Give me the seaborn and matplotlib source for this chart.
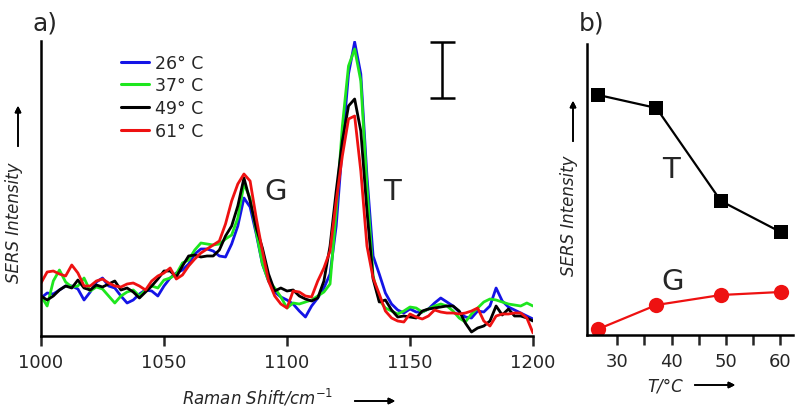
import matplotlib
matplotlib.use("Agg")
import matplotlib.pyplot as plt
import seaborn as sns
import pandas as pd
import numpy as np

# Spectra data (Raman shift grid, intensities in arbitrary units)
shift = np.arange(1000, 1200.1, 2.5)

blue_26 = [38, 43, 42, 46, 50, 50, 47, 36, 44, 54, 58, 50, 48, 40, 33, 36, 42, 46, 45, 40,
           50, 58, 63, 66, 72, 82, 87, 87, 85, 80, 79, 92, 110, 138, 129, 102, 72, 55, 44, 39,
           36, 32, 25, 19, 30, 38, 48, 62, 110, 190, 262, 294, 262, 160, 80, 62, 43, 32, 26, 23,
           27, 24, 24, 27, 33, 38, 34, 30, 24, 19, 18, 25, 24, 30, 48, 35, 29, 26, 23, 20, 17]
green_37 = [40, 30, 55, 66, 54, 49, 50, 58, 45, 49, 47, 40, 33, 40, 44, 46, 40, 46, 50, 48,
            56, 58, 62, 73, 76, 86, 93, 92, 91, 92, 97, 101, 118, 152, 138, 104, 72, 55, 48, 39,
            28, 33, 32, 34, 36, 40, 44, 52, 125, 210, 270, 287, 255, 150, 60, 36, 28, 25, 22, 25,
            29, 28, 24, 27, 30, 32, 30, 25, 18, 14, 22, 28, 34, 37, 36, 34, 32, 31, 30, 33, 30]
black_49 = [40, 36, 40, 46, 50, 48, 56, 48, 46, 51, 49, 52, 55, 46, 48, 44, 38, 44, 50, 57,
            65, 65, 59, 70, 80, 81, 79, 80, 80, 86, 100, 110, 130, 158, 135, 108, 88, 62, 45, 48,
            45, 46, 40, 37, 35, 38, 55, 90, 145, 195, 230, 237, 205, 125, 57, 34, 36, 26, 19, 20,
            19, 18, 25, 27, 28, 29, 30, 30, 25, 13, 4, 8, 10, 15, 30, 21, 27, 20, 20, 18, 15]
red_61 = [53, 64, 65, 62, 60, 71, 63, 50, 50, 55, 57, 53, 50, 49, 52, 53, 50, 46, 55, 60,
          63, 68, 57, 61, 70, 77, 83, 87, 91, 95, 112, 135, 152, 162, 155, 118, 85, 55, 40, 32,
          28, 45, 44, 40, 39, 55, 68, 85, 135, 180, 217, 220, 165, 90, 58, 42, 25, 18, 15, 14,
          22, 19, 17, 20, 26, 24, 23, 23, 22, 23, 25, 28, 15, 10, 20, 22, 22, 23, 23, 18, 3]

labels = ["26° C", "37° C", "49° C", "61° C"]
colors = ["#1414e6", "#1ee61e", "#000000", "#ee1111"]

# Peak intensities vs temperature
temps = [26.5, 37.2, 49.1, 60.1]
peak_T = [240, 227, 134, 103]
peak_G = [6, 30, 40, 43]

rows = []
for lab, vals in zip(labels, [blue_26, green_37, black_49, red_61]):
    for x, v in zip(shift, vals):
        rows.append({"shift": x, "intensity": v, "temp": lab})
df = pd.DataFrame(rows)

sns.set_style("ticks")
plt.rcParams["font.family"] = ["DejaVu Sans"]

W, H = 800, 414
fig = plt.figure(figsize=(W / 100, H / 100), dpi=100)

def box(l, r, t, b):
    return [l / W, 1 - b / H, (r - l) / W, (b - t) / H]

# ---- panel a
ax = fig.add_axes(box(41, 533, 42, 337))
sns.lineplot(data=df, x="shift", y="intensity", hue="temp", hue_order=labels,
             palette=colors, linewidth=2.0, ax=ax, estimator=None, sort=False)
ax.set_xlim(1000, 1200)
ax.set_ylim(0, 295)
ax.set_xticks([1000, 1050, 1100, 1150, 1200])
ax.set_yticks([])
ax.set_xlabel("")
ax.set_ylabel("")
ax.tick_params(axis="x", labelsize=13, length=7, width=1.8, direction="out", pad=5)
for s in ["top", "right"]:
    ax.spines[s].set_visible(False)
for s in ["left", "bottom"]:
    ax.spines[s].set_linewidth(1.8)
    ax.spines[s].set_color("black")

leg = ax.legend(loc="upper left", bbox_to_anchor=(0.163, 0.957), frameon=False,
                fontsize=12.5, handlelength=1.6, handletextpad=0.35,
                labelspacing=0.27, borderpad=0, borderaxespad=0)
for line in leg.get_lines():
    line.set_linewidth(2.2)

ax.text(1091, 145, "G", fontsize=21, ha="left", va="center")
ax.text(1139, 145, "T", fontsize=21, ha="left", va="center")

# scale bar
ax.errorbar([1162.9], [266], yerr=[[28]], color="black", capsize=9,
            elinewidth=1.8, capthick=1.8, fmt="none")

fig.text(33 / W, 1 - 23 / H, "a)", fontsize=18, ha="left", va="center")

# ---- panel b
bx = fig.add_axes(box(587, 793, 45, 336))
sns.lineplot(x=temps, y=peak_T, color="black", marker="s", markersize=10,
             markeredgewidth=0, linewidth=1.6, ax=bx)
sns.lineplot(x=temps, y=peak_G, color="#ee1111", marker="o", markersize=11,
             markeredgewidth=0, linewidth=1.6, ax=bx)
bx.set_xlim(24.4, 62.4)
bx.set_ylim(0, 291)
bx.set_xticks([30, 40, 50, 60])
bx.set_xticks([35, 45, 55], minor=True)
bx.set_yticks([])
bx.tick_params(axis="x", which="both", labelsize=13, length=7, width=1.8,
               direction="out", pad=5)
for s in ["top", "right"]:
    bx.spines[s].set_visible(False)
for s in ["left", "bottom"]:
    bx.spines[s].set_linewidth(1.8)
    bx.spines[s].set_color("black")
bx.text(39.9, 166, "T", fontsize=21, ha="center", va="center")
bx.text(40.2, 54, "G", fontsize=21, ha="center", va="center")

fig.text(579 / W, 1 - 23 / H, "b)", fontsize=18, ha="left", va="center")

# ---- axis labels with arrows
arrow = dict(arrowstyle="-|>", color="black", lw=1.2, mutation_scale=9)
fig.text(14 / W, 1 - 223 / H, "SERS Intensity", fontsize=12, style="italic",
         rotation=90, ha="center", va="center")
fig.add_artist(plt.annotate("", xy=(18, H - 104), xytext=(18, H - 150),
                            xycoords="figure pixels", arrowprops=arrow))
fig.text(258 / W, 1 - 398 / H, "Raman Shift/cm$^{-1}$", fontsize=12, style="italic",
         ha="center", va="center")
fig.add_artist(plt.annotate("", xy=(398, H - 402), xytext=(352, H - 402),
                            xycoords="figure pixels", arrowprops=arrow))
fig.text(569 / W, 1 - 216 / H, "SERS Intensity", fontsize=12, style="italic",
         rotation=90, ha="center", va="center")
fig.add_artist(plt.annotate("", xy=(573, H - 99), xytext=(573, H - 145),
                            xycoords="figure pixels", arrowprops=arrow))
fig.text(665 / W, 1 - 387 / H, "T/°C", fontsize=12, style="italic",
         ha="center", va="center")
fig.add_artist(plt.annotate("", xy=(738, H - 386), xytext=(692, H - 386),
                            xycoords="figure pixels", arrowprops=arrow))

fig.savefig("out.png", dpi=100)
